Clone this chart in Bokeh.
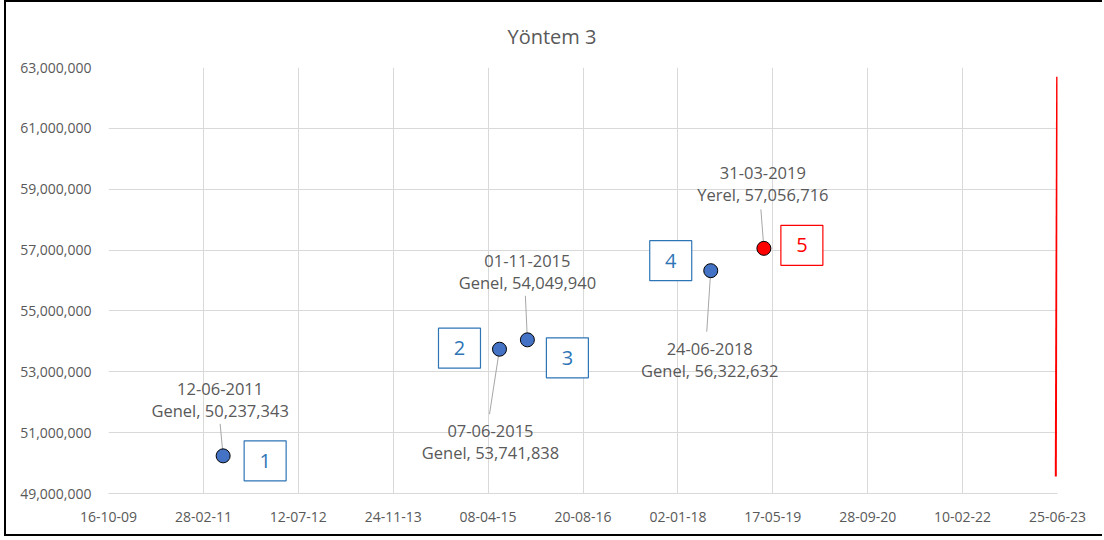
import pandas as pd
from bokeh.plotting import figure
from bokeh.models import Range1d, FixedTicker, NumeralTickFormatter, ColumnDataSource
from bokeh.embed import file_html
from bokeh.resources import INLINE
from bokeh.core.properties import value

# ---------------- data ----------------
title_text = "Yöntem 3"
dates = ["2011-06-12", "2015-06-07", "2015-11-01", "2018-06-24", "2019-03-31"]
kinds = ["Genel", "Genel", "Genel", "Genel", "Yerel"]
voters = [50237343, 53741838, 54049940, 56322632, 57056716]
numbers = ["1", "2", "3", "4", "5"]
x_tick_labels = ["16-10-09", "28-02-11", "12-07-12", "24-11-13", "08-04-15", "20-08-16",
                 "02-01-18", "17-05-19", "28-09-20", "10-02-22", "25-06-23"]
y_ticks = [49000000, 51000000, 53000000, 55000000, 57000000, 59000000, 61000000, 63000000]
red_line_dates = ["2023-06-16", "2023-06-23"]
red_line_values = [49560000, 62700000]

# ---------------- styling / layout ----------------
FRAME_W, FRAME_H = 949, 426
BLUE = "#4472C4"
BOX_BLUE = "#2E75B6"
RED = "#FF0000"
TXT = "#595959"
GRID = "#D9D9D9"
FONT = "Open Sans"

# offsets (pixels, screen y down) for label blocks, leader ends, number boxes
lab_dx = [-3, -9, 0, -1, -1]
lab_dy = [-56, 92, -68, 89, -65]
lead_dx = [-3, -10, -2, -4, -3]
lead_dy = [-32, 65, -44, 61, -39]
box_dx = [42, -40, 40, -40, 38]
box_dy = [5, -1, 18, -10, -3]
box_colors = [BOX_BLUE, BOX_BLUE, BOX_BLUE, BOX_BLUE, RED]
pt_colors = [BLUE, BLUE, BLUE, BLUE, RED]


def to_ms(s, fmt=None):
    return pd.to_datetime(s, format=fmt).value // 10**6


xs = [to_ms(d) for d in dates]
tick_ms = [to_ms(t, "%d-%m-%y") for t in x_tick_labels]
x0, x1 = tick_ms[0], tick_ms[-1]
y0, y1 = y_ticks[0], y_ticks[-1]
ms_px = (x1 - x0) / FRAME_W
val_px = (y1 - y0) / FRAME_H

p = figure(frame_width=FRAME_W, frame_height=FRAME_H,
           x_axis_type="datetime", output_backend="svg", toolbar_location=None,
           min_border_left=102, min_border_right=45, min_border_top=65, min_border_bottom=41,
           x_range=Range1d(x0, x1), y_range=Range1d(y0, y1))
p.styles = {"border-left": "2px solid black", "border-top": "2px solid black",
            "border-bottom": "2px solid black", "margin-left": "4px"}

p.title.text = title_text
p.title.align = "left"
p.title.offset = 399
p.title.text_font = FONT
p.title.text_font_size = "20px"
p.title.text_font_style = "normal"
p.title.text_color = TXT
p.title.standoff = 36

p.outline_line_color = None
p.background_fill_color = "white"
p.border_fill_color = "white"

# axes
p.xaxis.ticker = FixedTicker(ticks=tick_ms)
p.xaxis.major_label_overrides = {t: l for t, l in zip(tick_ms, x_tick_labels)}
p.yaxis.ticker = FixedTicker(ticks=y_ticks)
p.yaxis.formatter = NumeralTickFormatter(format="0,0")
for ax in (p.xaxis, p.yaxis):
    ax.major_tick_line_color = None
    ax.minor_tick_line_color = None
    ax.major_label_text_font = FONT
    ax.major_label_text_font_size = "14px"
    ax.major_label_text_color = TXT
p.yaxis.axis_line_color = None
p.xaxis.axis_line_color = GRID
p.xaxis.major_label_standoff = 12
p.yaxis.major_label_standoff = 11

p.xgrid.grid_line_color = GRID
p.ygrid.grid_line_color = GRID

# red vertical line
p.line([to_ms(d) for d in red_line_dates], red_line_values, line_color=RED, line_width=2)

# leader lines
p.segment(x0=xs, y0=voters,
          x1=[x + dx * ms_px for x, dx in zip(xs, lead_dx)],
          y1=[v - dy * val_px for v, dy in zip(voters, lead_dy)],
          line_color="#A6A6A6", line_width=1)

# points
src = ColumnDataSource(dict(x=xs, y=voters, c=pt_colors))
p.scatter("x", "y", source=src, size=14, fill_color="c", line_color="black", line_width=1)

# data labels
texts = [f"{pd.Timestamp(d).strftime('%d-%m-%Y')}\n{k}, {v:,}" for d, k, v in zip(dates, kinds, voters)]
lsrc = ColumnDataSource(dict(x=xs, y=voters, t=texts, dx=lab_dx, dy=lab_dy))
p.text("x", "y", text="t", source=lsrc, x_offset="dx", y_offset="dy",
       text_align="center", text_baseline="middle", text_font=value(FONT),
       text_font_size="16.5px", text_color=TXT, text_line_height=0.95)

# number boxes
bx = [x + dx * ms_px for x, dx in zip(xs, box_dx)]
by = [v - dy * val_px for v, dy in zip(voters, box_dy)]
bsrc = ColumnDataSource(dict(x=bx, y=by, t=numbers, c=box_colors))
p.rect("x", "y", width=42, height=40, width_units="screen", height_units="screen",
       source=bsrc, fill_color="white", line_color="c", line_width=1.2)
p.text("x", "y", text="t", source=bsrc, text_align="center", text_baseline="middle",
       text_font=value(FONT), text_font_size="20px", text_color="c")

open("out.html", "w").write(file_html(p, INLINE))
